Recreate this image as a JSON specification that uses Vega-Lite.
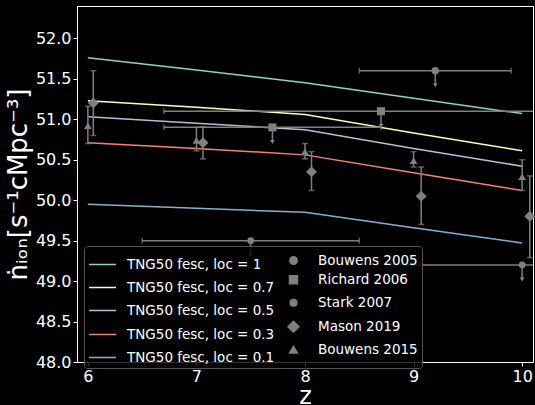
{
  "$schema": "https://vega.github.io/schema/vega-lite/v6.json",
  "autosize": "none",
  "width": 456,
  "height": 356,
  "padding": {"left": 77, "top": 6, "right": 2, "bottom": 43},
  "background": "black",
  "config": {
    "font": "DejaVu Sans",
    "view": {"stroke": "white", "strokeWidth": 1},
    "axis": {
      "labelColor": "white", "tickColor": "white", "domainColor": "white",
      "titleColor": "white", "labelFontSize": 16, "titleFontSize": 24,
      "titleFontWeight": "normal", "grid": false, "tickSize": 4, "labelPadding": 2,
      "labelFont": "DejaVu Sans", "titleFont": "DejaVu Sans"
    }
  },
  "datasets": {
    "tng": [
      {"series": "TNG50 fesc, loc = 1", "z": 6, "n": 51.76},
      {"series": "TNG50 fesc, loc = 1", "z": 7, "n": 51.61},
      {"series": "TNG50 fesc, loc = 1", "z": 8, "n": 51.45},
      {"series": "TNG50 fesc, loc = 1", "z": 9, "n": 51.26},
      {"series": "TNG50 fesc, loc = 1", "z": 10, "n": 51.07},
      {"series": "TNG50 fesc, loc = 0.7", "z": 6, "n": 51.23},
      {"series": "TNG50 fesc, loc = 0.7", "z": 7, "n": 51.15},
      {"series": "TNG50 fesc, loc = 0.7", "z": 8, "n": 51.06},
      {"series": "TNG50 fesc, loc = 0.7", "z": 9, "n": 50.83},
      {"series": "TNG50 fesc, loc = 0.7", "z": 10, "n": 50.61},
      {"series": "TNG50 fesc, loc = 0.5", "z": 6, "n": 51.03},
      {"series": "TNG50 fesc, loc = 0.5", "z": 7, "n": 50.95},
      {"series": "TNG50 fesc, loc = 0.5", "z": 8, "n": 50.87},
      {"series": "TNG50 fesc, loc = 0.5", "z": 9, "n": 50.64},
      {"series": "TNG50 fesc, loc = 0.5", "z": 10, "n": 50.42},
      {"series": "TNG50 fesc, loc = 0.3", "z": 6, "n": 50.71},
      {"series": "TNG50 fesc, loc = 0.3", "z": 7, "n": 50.64},
      {"series": "TNG50 fesc, loc = 0.3", "z": 8, "n": 50.56},
      {"series": "TNG50 fesc, loc = 0.3", "z": 9, "n": 50.34},
      {"series": "TNG50 fesc, loc = 0.3", "z": 10, "n": 50.12},
      {"series": "TNG50 fesc, loc = 0.1", "z": 6, "n": 49.95},
      {"series": "TNG50 fesc, loc = 0.1", "z": 7, "n": 49.9},
      {"series": "TNG50 fesc, loc = 0.1", "z": 8, "n": 49.85},
      {"series": "TNG50 fesc, loc = 0.1", "z": 9, "n": 49.66},
      {"series": "TNG50 fesc, loc = 0.1", "z": 10, "n": 49.47}
    ],
    "obs": [
      {"series": "Bouwens 2005", "z": 9.2, "n": 51.6, "xlo": 8.5, "xhi": 9.9, "lim": 51.42},
      {"series": "Stark 2007", "z": 7.5, "n": 49.5, "xlo": 6.5, "xhi": 8.5, "lim": 49.32},
      {"series": "Stark 2007", "z": 10.0, "n": 49.2, "xlo": 8.8, "xhi": 11.2, "lim": 49.02},
      {"series": "Richard 2006", "z": 7.7, "n": 50.9, "xlo": 6.7, "xhi": 8.7, "lim": 50.72},
      {"series": "Richard 2006", "z": 8.7, "n": 51.1, "xlo": 6.7, "xhi": 10.7, "lim": 50.92},
      {"series": "Mason 2019", "z": 6.05, "n": 51.2, "ylo": 50.8, "yhi": 51.6},
      {"series": "Mason 2019", "z": 7.06, "n": 50.71, "ylo": 50.51, "yhi": 50.91},
      {"series": "Mason 2019", "z": 8.06, "n": 50.35, "ylo": 50.12, "yhi": 50.6},
      {"series": "Mason 2019", "z": 9.07, "n": 50.05, "ylo": 49.7, "yhi": 50.41},
      {"series": "Mason 2019", "z": 10.07, "n": 49.8, "ylo": 49.29, "yhi": 50.3},
      {"series": "Bouwens 2015", "z": 6.0, "n": 50.92, "ylo": 50.7, "yhi": 51.16},
      {"series": "Bouwens 2015", "z": 7.0, "n": 50.74, "ylo": 50.61, "yhi": 50.9},
      {"series": "Bouwens 2015", "z": 8.0, "n": 50.6, "ylo": 50.51, "yhi": 50.7},
      {"series": "Bouwens 2015", "z": 9.0, "n": 50.49, "ylo": 50.41, "yhi": 50.6},
      {"series": "Bouwens 2015", "z": 10.0, "n": 50.29, "ylo": 50.12, "yhi": 50.5}
    ]
  },
  "encoding": {
    "x": {"field": "z", "type": "quantitative",
      "scale": {"domain": [5.9, 10.1], "nice": false, "zero": false},
      "axis": {"values": [6, 7, 8, 9, 10], "format": "d", "title": "z", "titleY": 41, "titleBaseline": "alphabetic"}},
    "y": {"field": "n", "type": "quantitative",
      "scale": {"domain": [48, 52.4], "nice": false, "zero": false},
      "axis": {"values": [48, 48.5, 49, 49.5, 50, 50.5, 51, 51.5, 52], "format": ".1f",
        "title": "ṅᵢₒₙ[s⁻¹cMpc⁻³]", "titlePadding": 4, "titleFontSize": 26}}
  },
  "layer": [
    {
      "data": {"name": "tng"},
      "mark": {"type": "line", "strokeWidth": 1.5},
      "encoding": {
        "color": {"field": "series", "type": "nominal",
          "scale": {
            "domain": ["TNG50 fesc, loc = 1", "TNG50 fesc, loc = 0.7", "TNG50 fesc, loc = 0.5", "TNG50 fesc, loc = 0.3", "TNG50 fesc, loc = 0.1", "Bouwens 2005", "Richard 2006", "Stark 2007", "Mason 2019", "Bouwens 2015"],
            "range": ["#8dd3c7", "#feffb3", "#bfbbd9", "#fa8174", "#81b1d2", "#808080", "#808080", "#808080", "#808080", "#808080"]
          }
        }
      }
    },
    {
      "data": {"name": "obs"},
      "transform": [{"filter": "isValid(datum.xlo)"}],
      "mark": {"type": "rule", "color": "#808080", "strokeWidth": 1.5, "clip": true},
      "encoding": {"x": {"field": "xlo", "type": "quantitative"}, "x2": {"field": "xhi"}}
    },
    {
      "data": {"name": "obs"},
      "transform": [{"filter": "isValid(datum.xlo)"}, {"fold": ["xlo", "xhi"], "as": ["k", "xc"]}],
      "mark": {"type": "tick", "color": "#808080", "orient": "vertical", "size": 6, "thickness": 1.5, "clip": true},
      "encoding": {"x": {"field": "xc", "type": "quantitative"}}
    },
    {
      "data": {"name": "obs"},
      "transform": [{"filter": "isValid(datum.lim)"}],
      "mark": {"type": "rule", "color": "#808080", "strokeWidth": 1.5},
      "encoding": {"y2": {"field": "lim"}}
    },
    {
      "data": {"name": "obs"},
      "transform": [{"filter": "isValid(datum.lim)"}],
      "mark": {"type": "point", "shape": "triangle-down", "filled": true, "color": "#808080", "size": 22, "opacity": 1},
      "encoding": {"y": {"field": "lim", "type": "quantitative"}}
    },
    {
      "data": {"name": "obs"},
      "transform": [{"filter": "isValid(datum.ylo)"}],
      "mark": {"type": "rule", "color": "#808080", "strokeWidth": 1.5},
      "encoding": {"y": {"field": "ylo", "type": "quantitative"}, "y2": {"field": "yhi"}}
    },
    {
      "data": {"name": "obs"},
      "transform": [{"filter": "isValid(datum.ylo)"}, {"fold": ["ylo", "yhi"], "as": ["k", "yc"]}],
      "mark": {"type": "tick", "color": "#808080", "orient": "horizontal", "size": 6, "thickness": 1.5},
      "encoding": {"y": {"field": "yc", "type": "quantitative"}}
    },
    {
      "data": {"name": "obs"},
      "mark": {"type": "point", "filled": true, "opacity": 1},
      "encoding": {
        "color": {"field": "series", "type": "nominal",
          "legend": {
            "title": null, "orient": "none", "legendX": 7, "legendY": 240, "columns": 2,
            "labelColor": "white", "labelFontSize": 13.5, "labelFont": "DejaVu Sans",
            "fillColor": "rgba(0,0,0,0.8)", "strokeColor": "#555555", "cornerRadius": 3,
            "padding": 4, "rowPadding": 1, "columnPadding": 4, "symbolStrokeWidth": 1.5,
            "labelOffset": 10, "symbolOffset": 0,
            "encode": {"symbols": {"update": {
              "stroke": {"scale": "color", "field": "value"}
            }}}
          }
        },
        "shape": {"field": "series", "type": "nominal",
          "scale": {
            "domain": ["TNG50 fesc, loc = 1", "TNG50 fesc, loc = 0.7", "TNG50 fesc, loc = 0.5", "TNG50 fesc, loc = 0.3", "TNG50 fesc, loc = 0.1", "Bouwens 2005", "Richard 2006", "Stark 2007", "Mason 2019", "Bouwens 2015"],
            "range": ["stroke", "stroke", "stroke", "stroke", "stroke", "circle", "square", "circle", "diamond", "triangle-up"]
          }
        },
        "size": {"field": "series", "type": "nominal",
          "scale": {
            "type": "ordinal",
            "domain": ["TNG50 fesc, loc = 1", "TNG50 fesc, loc = 0.7", "TNG50 fesc, loc = 0.5", "TNG50 fesc, loc = 0.3", "TNG50 fesc, loc = 0.1", "Bouwens 2005", "Richard 2006", "Stark 2007", "Mason 2019", "Bouwens 2015"],
            "range": [729, 729, 729, 729, 729, 55, 64, 45, 120, 60]
          },
          "legend": null
        }
      }
    }
  ]
}
